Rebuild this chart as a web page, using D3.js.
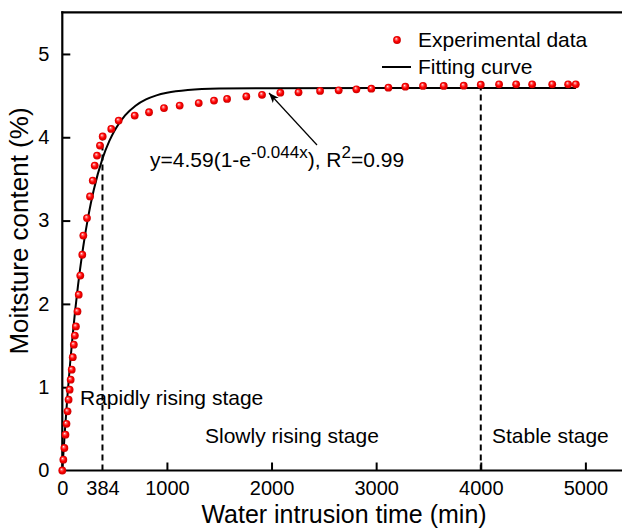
<!DOCTYPE html>
<html><head><meta charset="utf-8">
<script src="https://cdn.jsdelivr.net/npm/d3@7"></script>
<style>
body{margin:0;background:#fff}
svg{display:block}
text{font-family:"Liberation Sans",Arial,sans-serif;fill:#000}
</style>
</head><body>
<svg id="chart" width="622" height="528"></svg>
<script>
// ---- data ----
const timeData = [0,10,20,30,40,50,60,70,80,90,100,110,120,130,145,157,172,191,201,236,265,291,310,332,360,386,468,539,692,829,972,1122,1304,1450,1575,1759,1909,2084,2258,2464,2642,2811,2954,3117,3279,3448,3646,3837,4000,4175,4338,4491,4683,4835,4908];
const moistureData = [0,0.13,0.27,0.43,0.56,0.71,0.85,0.97,1.09,1.21,1.36,1.51,1.62,1.73,1.91,2.11,2.34,2.59,2.82,3.03,3.29,3.48,3.66,3.78,3.90,4.01,4.10,4.20,4.26,4.30,4.35,4.38,4.41,4.44,4.46,4.49,4.51,4.535,4.54,4.556,4.564,4.576,4.583,4.595,4.607,4.616,4.616,4.619,4.631,4.636,4.636,4.636,4.636,4.636,4.636];
const fitTime = [0,25,50,75,100,150,200,250,300,384,450,500,600,700,800,900,1000,1200,1500,2000,3000,4910];
const fitMoisture = [0,0.478,0.907,1.290,1.634,2.218,2.686,3.062,3.364,3.743,3.956,4.082,4.262,4.379,4.454,4.503,4.534,4.567,4.584,4.589,4.59,4.59];
const xTickValues = [0,384,1000,2000,3000,4000,5000];
const yTickValues = [0,1,2,3,4,5];
const stageBoundTimes = [384,4000];
const stageBoundTops = [4.03,4.63];
const stageLabels = ["Rapidly rising stage","Slowly rising stage","Stable stage"];
const legendLabels = ["Experimental data","Fitting curve"];

const svg = d3.select("#chart");
const x = d3.scaleLinear().domain([0,5350]).range([62.3,622]);
const y = d3.scaleLinear().domain([0,5.5]).range([470.5,12.3]);

// gradient for sphere markers
const defs = svg.append("defs");
const g = defs.append("radialGradient").attr("id","ball").attr("cx","50%").attr("cy","50%").attr("r","55%").attr("fx","38%").attr("fy","32%");
g.append("stop").attr("offset","0%").attr("stop-color","#ffffff");
g.append("stop").attr("offset","22%").attr("stop-color","#ff7070");
g.append("stop").attr("offset","55%").attr("stop-color","#ff0000");
g.append("stop").attr("offset","100%").attr("stop-color","#c00000");
defs.append("marker").attr("id","arrow").attr("viewBox","0 0 10 10").attr("refX",10).attr("refY",5)
  .attr("markerWidth",10).attr("markerHeight",10).attr("markerUnits","userSpaceOnUse").attr("orient","auto")
  .append("path").attr("d","M0,1 L10,5 L0,9 L2.5,5 Z").attr("fill","#000");

// axes
const xAxis = d3.axisBottom(x).tickValues(xTickValues).tickFormat(d3.format("d")).tickSizeInner(-8).tickSizeOuter(0).tickPadding(10);
const gx = svg.append("g").attr("transform",`translate(0,${y(0)})`).call(xAxis);
gx.select(".domain").remove();
gx.selectAll(".tick line").attr("stroke","#000").attr("stroke-width",2).attr("display",d=> (d===384||d===0)?"none":null);
gx.selectAll(".tick text").attr("font-size",20).attr("font-family","Liberation Sans, Arial, sans-serif");

const yAxis = d3.axisLeft(y).tickValues(yTickValues).tickFormat(d3.format("d")).tickSizeInner(-8).tickSizeOuter(0).tickPadding(13);
const gy = svg.append("g").attr("transform",`translate(${x(0)},0)`).call(yAxis);
gy.select(".domain").remove();
gy.selectAll(".tick line").attr("stroke","#000").attr("stroke-width",2).attr("display",d=> d===0?"none":null);
gy.selectAll(".tick text").attr("font-size",20).attr("font-family","Liberation Sans, Arial, sans-serif");

// frame lines
svg.append("line").attr("x1",x(0)).attr("x2",622).attr("y1",y(0)).attr("y2",y(0)).attr("stroke","#000").attr("stroke-width",2.2);
svg.append("line").attr("x1",x(0)).attr("x2",x(0)).attr("y1",y(0)+1).attr("y2",y(5.5)-1).attr("stroke","#000").attr("stroke-width",2.2);
svg.append("line").attr("x1",x(0)-1).attr("x2",622).attr("y1",y(5.5)).attr("y2",y(5.5)).attr("stroke","#000").attr("stroke-width",2.2);

// stage dashed lines
svg.selectAll(".stage").data(stageBoundTimes).enter().append("line")
  .attr("x1",d=>x(d)).attr("x2",d=>x(d)).attr("y1",y(0)).attr("y2",(d,i)=>y(stageBoundTops[i]))
  .attr("stroke","#000").attr("stroke-width",2).attr("stroke-dasharray","6,4");

// fitted curve
const fitPts = fitTime.map((t,i)=>[t,fitMoisture[i]]);
svg.append("path").datum(fitPts)
  .attr("d",d3.line().x(d=>x(d[0])).y(d=>y(d[1])).curve(d3.curveMonotoneX))
  .attr("fill","none").attr("stroke","#000").attr("stroke-width",2);

// experimental points
svg.selectAll(".pt").data(timeData.map((t,i)=>[t,moistureData[i]])).enter().append("circle")
  .attr("cx",d=>x(d[0])).attr("cy",d=>y(d[1])).attr("r",3.9).attr("fill","url(#ball)");

// legend
svg.append("circle").attr("cx",397).attr("cy",40).attr("r",3.9).attr("fill","url(#ball)");
svg.append("text").attr("x",418).attr("y",47).attr("font-size",21).text(legendLabels[0]);
svg.append("line").attr("x1",382).attr("x2",411).attr("y1",67).attr("y2",67).attr("stroke","#000").attr("stroke-width",2);
svg.append("text").attr("x",418).attr("y",74).attr("font-size",21).text(legendLabels[1]);

// stage labels
svg.append("text").attr("x",80).attr("y",405).attr("font-size",21).text(stageLabels[0]);
svg.append("text").attr("x",205).attr("y",443).attr("font-size",21).text(stageLabels[1]);
svg.append("text").attr("x",492).attr("y",443).attr("font-size",21).text(stageLabels[2]);

// equation
const eq = svg.append("text").attr("x",150).attr("y",167).attr("font-size",21);
eq.append("tspan").text("y=4.59(1-e");
eq.append("tspan").attr("dy",-9).attr("font-size",17).text("-0.044x");
eq.append("tspan").attr("dy",9).text("), R");
eq.append("tspan").attr("dy",-9).attr("font-size",17).text("2");
eq.append("tspan").attr("dy",9).text("=0.99");

// arrow
svg.append("line").attr("x1",317).attr("y1",145).attr("x2",269).attr("y2",93)
  .attr("stroke","#000").attr("stroke-width",1.2).attr("marker-end","url(#arrow)");

// axis titles
svg.append("text").attr("x",344).attr("y",522.5).attr("text-anchor","middle").attr("font-size",25).text("Water intrusion time (min)");
svg.append("text").attr("transform","translate(28,231) rotate(-90)").attr("text-anchor","middle").attr("font-size",26).text("Moitsture content (%)");
</script>
</body></html>
